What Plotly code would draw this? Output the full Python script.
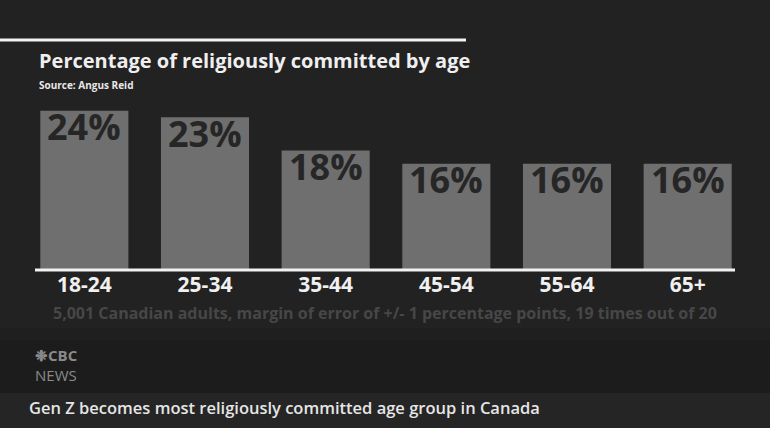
import plotly.graph_objects as go

categories = ["18-24", "25-34", "35-44", "45-54", "55-64", "65+"]
values = [24, 23, 18, 16, 16, 16]
labels = [f"{v}%" for v in values]

title = "Percentage of religiously committed by age"
source = "Source: Angus Reid"
footnote = "5,001 Canadian adults, margin of error of +/- 1 percentage points, 19 times out of 20"
headline = "Gen Z becomes most religiously committed age group in Canada"

W, H = 770, 428
plot_l, plot_r, plot_t, plot_b = 24, W - 22, 104, 270
pw, ph = plot_r - plot_l, plot_b - plot_t


def fx(px):
    return (px - plot_l) / pw


def fy(py):
    return (plot_b - py) / ph


fig = go.Figure()
fig.add_trace(go.Bar(
    x=categories, y=values,
    marker=dict(color="#6f6f6f", line=dict(width=0)),
    hoverinfo="skip",
))

fig.update_layout(
    width=W, height=H,
    margin=dict(l=plot_l, r=W - plot_r, t=plot_t, b=H - plot_b, pad=0),
    paper_bgcolor="#222222", plot_bgcolor="rgba(0,0,0,0)",
    bargap=0.27,
    showlegend=False,
    xaxis=dict(showgrid=False, zeroline=False, showline=False,
               tickfont=dict(family="Open Sans", size=21, color="#f0f0f0", weight="bold"),
               ticks="", ticklabelstandoff=0, fixedrange=True),
    yaxis=dict(range=[0, 25], showgrid=False, zeroline=False, showticklabels=False,
               showline=False, fixedrange=True),
)

shapes = [
    dict(type="rect", xref="paper", yref="paper", x0=-0.2, x1=1.2, y0=fy(440), y1=fy(328),
         fillcolor="#1f1f1f", line=dict(width=0), layer="below"),
    dict(type="rect", xref="paper", yref="paper", x0=-0.2, x1=1.2, y0=fy(440), y1=fy(340),
         fillcolor="#1c1c1c", line=dict(width=0), layer="below"),
    dict(type="rect", xref="paper", yref="paper", x0=-0.2, x1=1.2, y0=fy(440), y1=fy(393),
         fillcolor="#252525", line=dict(width=0), layer="below"),
    dict(type="line", xref="paper", yref="paper", x0=-0.2, x1=fx(466), y0=fy(40), y1=fy(40),
         line=dict(color="#f2f2f2", width=3)),
    dict(type="line", xref="paper", yref="paper", x0=fx(35), x1=fx(735), y0=fy(270), y1=fy(270),
         line=dict(color="#f2f2f2", width=3)),
]
fig.update_layout(shapes=shapes)

ann = []
for c, v, t in zip(categories, values, labels):
    ann.append(dict(text=f"<b>{t}</b>", x=c, y=v, xref="x", yref="y",
                    xanchor="center", yanchor="middle", yshift=-16, showarrow=False,
                    font=dict(family="Open Sans", size=36, color="#262626")))
ann.append(dict(text=f"<b>{title}</b>", x=fx(37), y=fy(60), xref="paper", yref="paper",
                xanchor="left", yanchor="middle", showarrow=False,
                font=dict(family="Open Sans", size=20, color="#efefef")))
ann.append(dict(text=f"<b>{source}</b>", x=fx(37), y=fy(85), xref="paper", yref="paper",
                xanchor="left", yanchor="middle", showarrow=False,
                font=dict(family="Open Sans", size=10, color="#e8e8e8")))
ann.append(dict(text=f"<b>{footnote}</b>", x=fx(385), y=fy(313), xref="paper", yref="paper",
                xanchor="center", yanchor="middle", showarrow=False,
                font=dict(family="Open Sans", size=16, color="#474747")))
ann.append(dict(text="<b>❉CBC</b><br>NEWS", x=fx(33), y=fy(365), xref="paper", yref="paper",
                xanchor="left", yanchor="middle", align="left", showarrow=False,
                font=dict(family="Open Sans", size=15, color="#8a8a8a")))
ann.append(dict(text=headline, x=fx(27), y=fy(407), xref="paper", yref="paper",
                xanchor="left", yanchor="middle", showarrow=False,
                font=dict(family="Open Sans", size=16.5, color="#e6e6e6", weight=600)))
fig.update_layout(annotations=ann)

fig.write_html("out.html", config={"displayModeBar": False},
               post_script="document.body.style.margin='0';document.body.style.background='#222222';")
